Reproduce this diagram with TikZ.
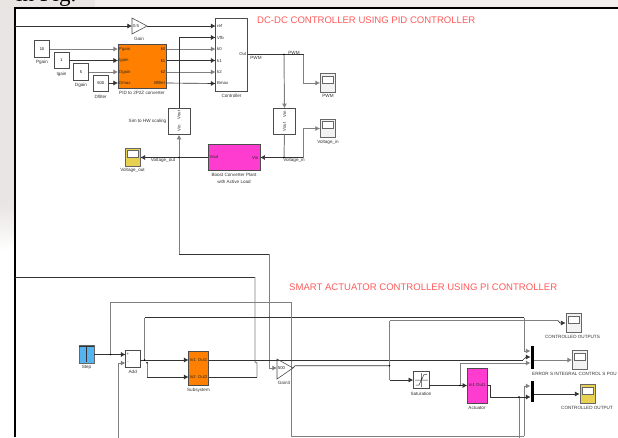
\documentclass[tikz,border=0pt]{standalone}
\usepackage{fontspec}
\setmainfont{Liberation Sans}
\newfontfamily\serifhead{Liberation Serif}
\usetikzlibrary{arrows.meta}
\definecolor{simorange}{HTML}{FF8000}
\definecolor{simpink}{HTML}{FF3CD0}
\definecolor{simblue}{HTML}{55B4F0}
\definecolor{simyellow}{HTML}{E8D050}
\definecolor{titlered}{HTML}{FF5A5A}
\definecolor{paper}{HTML}{E9E5E2}
\tikzset{
lab/.style={inner sep=0pt,text=black!80,font=\fontsize{4.6}{5.4}\selectfont,align=center},
portlab/.style={inner sep=0pt,text=black!85,font=\fontsize{4.3}{4.5}\selectfont},
titlelab/.style={inner sep=0pt,anchor=west,text=titlered,font=\fontsize{9.55}{11}\selectfont},
block/.style={draw=black!70,line width=0.6pt,fill=white,inner sep=0pt},
scopebox/.style={draw=black!60,line width=0.9pt,fill=#1,inner sep=0pt,minimum width=15pt,minimum height=18.5pt,
  path picture={\draw[black!60,line width=0.5pt,fill=white] ([xshift=2pt,yshift=-2pt]path picture bounding box.north west) rectangle ([xshift=-2pt,yshift=0pt]path picture bounding box.east);}},
sig/.style={draw=black!80,line width=0.65pt},
siglight/.style={draw=black!50,line width=0.95pt},
sigto/.style={-{Latex[length=4.6pt,width=5pt]}},
muxbar/.style={fill=black,inner sep=0pt,minimum width=3pt},
}
\begin{document}
\begin{tikzpicture}[x=1pt,y=-1pt]
\useasboundingbox (0,0) rectangle (618,437);
\fill[white] (0,0) rectangle (618,437);
\fill[paper] (0,0) rectangle (15,205);
\shade[top color=paper,bottom color=white] (0,205) rectangle (15,250);
\fill[paper] (0,0) rectangle (95,8);
\fill[paper!60!white] (95,0) rectangle (618,8);
\node[inner sep=0pt,anchor=base west,font=\serifhead\fontsize{23}{23}\selectfont] (head) at (16,1) {in Fig.};
\draw[black,line width=2pt] (15,437) -- (15,8) -- (618,8);

\node[titlelab] (titlea) at (257,20.5) {DC-DC CONTROLLER USING PID CONTROLLER};
\node[titlelab] (titleb) at (289,287.5) {SMART ACTUATOR CONTROLLER USING PI CONTROLLER};

\node[block,minimum width=32pt,minimum height=72.5pt] (ctrl) at (231.5,54.75) {};
\node[block,fill=simorange,minimum width=48.5pt,minimum height=44pt] (pid) at (142.25,66) {};
\node[block,minimum width=15pt,minimum height=16.5pt] (pgain) at (42,48.75) {\fontsize{4}{4}\selectfont 10};
\node[block,minimum width=15pt,minimum height=16.5pt] (igain) at (61.5,60.5) {\fontsize{4}{4}\selectfont 1};
\node[block,minimum width=15pt,minimum height=16.5pt] (dgain) at (81,71.75) {\fontsize{4}{4}\selectfont 5};
\node[block,minimum width=15pt,minimum height=16.5pt] (dfilter) at (100.75,83.5) {\fontsize{4}{4}\selectfont 500};
\node[block,minimum width=22pt,minimum height=26pt] (simhw) at (179,121.5) {};
\node[block,minimum width=22pt,minimum height=26pt] (hwsim) at (284.5,121.5) {};
\node[block,fill=simpink,minimum width=52pt,minimum height=26pt] (boost) at (234,157.5) {};
\node[scopebox=simyellow] (svout) at (132.5,157.5) {};
\node[scopebox=black!5] (spwm) at (328,83) {};
\node[scopebox=black!5] (svin) at (328,128.5) {};
\node[lab] (lgain) at (139,39) {Gain};
\node[lab] (lpgain) at (42,62) {Pgain};
\node[lab] (ligain) at (61.5,74) {Igain};
\node[lab] (ldgain) at (81,85) {Dgain};
\node[lab] (ldfilter) at (100.75,96.5) {Dfilter};
\node[lab] (lpid) at (142,93) {PID to 2P2Z converter};
\node[lab] (lctrl) at (231.5,96) {Controller};
\node[lab,anchor=east] (lsimhw) at (166.5,121.5) {Sim to HW scaling};
\node[lab] (lsvout) at (132.5,170.5) {Voltage\_out};
\node[lab] (lboost) at (234,178) {Boost Converter Plant\\[1.6pt]with Active Load};
\node[lab] (lspwm) at (328,96) {PWM};
\node[lab] (lsvin) at (328,142) {Voltage\_in};
\node[lab] (lpa) at (256,57.5) {PWM};
\node[lab] (lpb) at (294,52.5) {PWM};
\node[lab] (lvin) at (294,160.5) {Voltage\_in};
\node[lab] (lvout) at (163,160.5) {Voltage\_out};
\foreach \nm/\yy/\txt in {a/26/ref,b/37.5/Vfb,c/49/k0,d/60.5/k1,e/72/k2,f/83.5/Bmax}{
  \coordinate (c\nm) at (215.5,\yy);
  \node[portlab,anchor=west] (lc\nm) at (217,\yy) {\txt};
}
\foreach \nm/\yy/\txt/\out in {a/49/Pgain/k0,b/60.5/Igain/k1,c/72/Dgain/k2,d/83/Dmax/Bfilter}{
  \coordinate (pin\nm) at (118,\yy);
  \coordinate (pout\nm) at (166.5,\yy);
  \node[portlab,anchor=west] (lpin\nm) at (119,\yy) {\txt};
  \node[portlab,anchor=east] (lpout\nm) at (165.5,\yy) {\out};
}
\node[portlab,anchor=east] (lcout) at (246.5,54.5) {Out};
\node[portlab,rotate=90] (lsa) at (179,115) {Vout};
\node[portlab,rotate=90] (lsb) at (179,128.5) {Vin};
\node[portlab,rotate=90] (lha) at (284.5,114) {Vin};
\node[portlab,rotate=90] (lhb) at (284.5,127) {Vout};
\node[portlab,anchor=west] (lbv) at (209.5,157.5) {Vout};
\node[portlab,anchor=east] (lbi) at (258.5,157.5) {Vin};
\coordinate (gainin) at (132,26);
\coordinate (gainout) at (147,26);
\coordinate (cout) at (247.5,54.5);
\coordinate (jpwm) at (284,54.5);
\coordinate (jvin) at (284,157.5);
\coordinate (jvout) at (179,157.5);

\draw[block] (132,18) -- (147,26) -- (132,34) -- cycle;
\node[portlab] (lgi) at (136,26) {0.5};
\draw[sig,sigto] (15,26) -- (gainin);
\draw[sig,sigto] (gainout) -- (ca);
\draw[siglight,sigto] (pgain.east |- pina) -- (pina);
\draw[sig,sigto] (igain.east |- pinb) -- (pinb);
\draw[siglight,sigto] (dgain.east |- pinc) -- (pinc);
\draw[sig,sigto] (dfilter.east |- pind) -- (pind);
\draw[siglight,sigto] (pouta) -- (cc);
\draw[sig,sigto] (poutb) -- (cd);
\draw[siglight,sigto] (poutc) -- (ce);
\draw[sig,sigto] (poutd) -- (cf);
\draw[sig,sigto] (simhw.north) |- (cb);
\draw[sig,sigto] (boost.west |- jvout) -- (svout.east);
\draw[sig] (cout) -- (303.5,54.5);
\draw[siglight,sigto] (303.5,54.5) -- (303.5,83) -- (spwm.west);
\draw[siglight,sigto] (jpwm) -- (hwsim.north);
\draw[siglight] (hwsim.south) -- (jvin);
\draw[sig,sigto] (303.5,157.5) -- (boost.east);
\draw[siglight,sigto] (303.5,157.5) -- (303.5,128.5) -- (svin.west);
\draw[siglight,sigto] (jvout) -- (simhw.south);

\node[block,fill=simblue,draw=black!60,minimum width=15pt,minimum height=17.5pt] (step) at (86.5,354.5) {};
\draw[black!80,line width=0.8pt] (step.north) ++(0,1) -- ++(0,15.5) (step.north west) ++(0,1) -- ++(15,0);
\node[block,minimum width=14.5pt,minimum height=17.5pt] (add) at (132.75,358.75) {};
\node[block,fill=simorange,minimum width=20pt,minimum height=34.5pt] (subsys) at (198.5,368.25) {};
\node[block,minimum width=15.5pt,minimum height=17.5pt] (sat) at (421.25,379.75) {};
\draw[black!80,line width=0.5pt] (416,385) -- (419,385) -- (424,374.5) -- (427,374.5) (421.25,373) -- (421.25,387) (415,380) -- (428,380);
\node[block,fill=simpink,minimum width=19.5pt,minimum height=34.5pt] (actu) at (477.25,385.75) {};
\node[scopebox=black!5] (sca) at (573.5,323) {};
\node[scopebox=black!5] (scb) at (580,360) {};
\node[scopebox=simyellow] (scc) at (587.5,394) {};
\node[muxbar,minimum height=23pt] (muxa) at (532,357.5) {};
\node[muxbar,minimum height=21pt] (muxb) at (532,391.5) {};
\node[lab] (lstep) at (86.5,367.5) {Step};
\node[lab] (ladd) at (132.75,372) {Add};
\node[lab] (lsub) at (198.5,390.5) {Subsystem};
\node[lab] (lgc) at (284,383) {Gain3};
\node[lab] (lsat) at (421,393.5) {Saturation};
\node[lab] (lact) at (477,408) {Actuator};
\node[lab] (lsca) at (572.5,336.5) {CONTROLLED OUTPUTS};
\node[lab,anchor=west] (lscb) at (532,373.5) {ERROR S INTEGRAL CONTROL S POU};
\node[lab] (lscc) at (587,407.5) {CONTROLLED OUTPUT};
\node[portlab,anchor=west] (lsa1) at (189.5,360) {In1};
\node[portlab,anchor=west] (lsa2) at (189.5,377) {In2};
\node[portlab,anchor=east] (lso1) at (207.5,360) {Out1};
\node[portlab,anchor=east] (lso2) at (207.5,377) {Out2};
\node[portlab] (lai) at (477.25,385.5) {In1 Out1};
\coordinate (sin1) at (188.5,360);
\coordinate (sin2) at (188.5,377);
\coordinate (sout1) at (208.5,360);
\coordinate (sout2) at (208.5,377);
\coordinate (addp) at (125.5,354.5);
\coordinate (addm) at (125.5,363);
\coordinate (ga) at (277,368);
\coordinate (gb) at (293,368);
\coordinate (jstep) at (110.5,354.5);
\coordinate (jadd) at (144.5,360);
\coordinate (jaddb) at (147,362.7);
\coordinate (jgain) at (389.5,365.7);
\coordinate (jact) at (460,385.5);
\coordinate (jfb) at (519,397);

\draw[siglight] (jvout) -- (179,254);
\draw[sig] (179,254) -- (269.5,254);
\draw[siglight,sigto] (269.5,254) -- (269.5,368) -- (ga);
\draw[sig] (15,277) -- (255,277);
\draw[siglight] (255,277) -- (255,362) -- (257,363) -- (257,377);
\draw[sig] (257,377) -- (sout2);
\draw[sig,sigto] (step.east |- addp) -- (addp);
\draw[sig] (add.east |- jadd) -- (jadd);
\draw[sig,sigto] (jadd) -- (sin1);
\draw[siglight] (jaddb) -- (147,377);
\draw[sig,sigto] (147,377) -- (sin2);
\draw[siglight] (jadd) -- (144.5,317.7);
\draw[sig] (144.5,317.7) -- (524,317.7);
\draw[siglight,sigto] (524,317.7) -- (524,351) -- (530.5,351);
\draw[siglight] (jstep) -- (110.5,302.7) -- (291.7,302.7);
\draw[siglight] (291.7,302.7) -- (291.7,436) -- (524,436);
\draw[siglight,sigto] (524,436) -- (524,386) -- (530.5,386);
\draw[sig] (sout1) -- (523,360);
\draw[sig,sigto] (523,360) -- (526,357) -- (530.5,357);
\draw[siglight,sigto] (118,445) -- (118,363) -- (addm);
\draw[siglight] (jfb) -- (519,445);
\draw[sig] (gb) -- (295,365.7) -- (jgain);
\draw[siglight] (389.5,320.5) -- (389.5,380);
\draw[siglight] (389.5,320.5) -- (558,320.5);
\draw[sig,sigto] (558,320.5) -- (560,323) -- (sca.west);
\draw[sig,sigto] (389.5,380) -- (sat.west |- 0,380);
\draw[sig,sigto] (sat.east |- 0,385.5) -- (actu.west |- jact);
\draw[siglight,sigto] (jact) -- (460,363) -- (530.5,363);
\draw[sig,sigto] (actu.east |- jact) -- (490,385.5) -- (490,397) -- (530.5,397);
\draw[siglight,sigto] (534,360) -- (scb.west);
\draw[sig,sigto] (534,394) -- (scc.west);
\draw[block,fill=none] (277,359) -- (293,368) -- (277,379) -- cycle;
\node[portlab] (lgb) at (281.5,368.5) {500};
\node[portlab] (ladda) at (128,354.5) {+};
\node[portlab] (laddb) at (128,363) {-};
\foreach \dotat in {jpwm,jvin,jvout,jstep,jadd,jaddb,jgain,jact,jfb}
  \fill[black] (\dotat) circle (0.9pt);
\end{tikzpicture}
\end{document}
